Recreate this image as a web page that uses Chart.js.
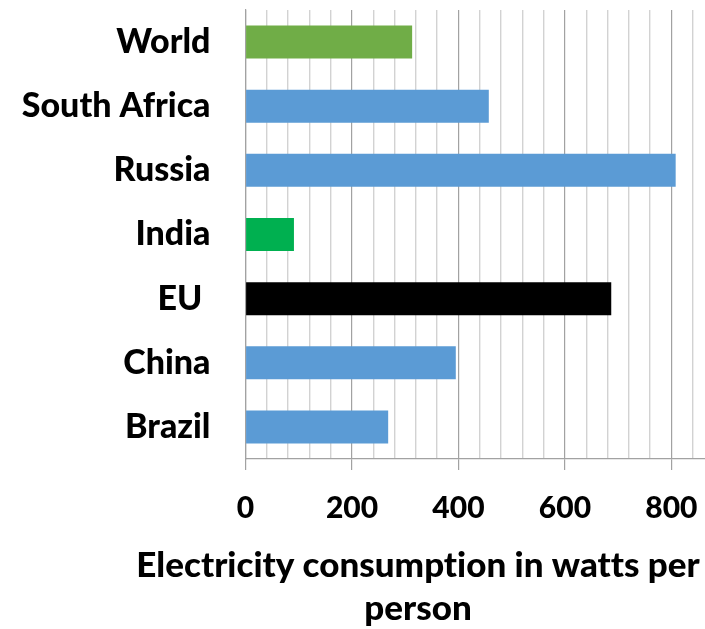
<!DOCTYPE html>
<html>
<head>
<meta charset="utf-8">
<script src="https://cdn.jsdelivr.net/npm/chart.js@4/dist/chart.umd.min.js"></script>
<style>
  html, body { margin: 0; padding: 0; background: #fff; overflow: hidden; }
  #wrap { position: relative; width: 720px; height: 629px; }
</style>
</head>
<body>
<div id="wrap"><canvas id="c" width="720" height="629"></canvas></div>
<script>
// Electricity consumption per person (watts)
const regions = ['World', 'South Africa', 'Russia', 'India', 'EU ', 'China', 'Brazil'];
const wattsPerPerson = [313, 457, 808, 91, 687, 395, 268];
const barColors = ['#70AD47', '#5B9BD5', '#5B9BD5', '#00B050', '#000000', '#5B9BD5', '#5B9BD5'];
const axisTitleLines = ['Electricity consumption in watts per', 'person'];
const xMin = 0, xMax = 880, minorStep = 40, majorStep = 200;

const FONT = 'Lato';

// Draws the two-line axis caption beneath the value labels
const captionPlugin = {
  id: 'caption',
  afterDraw(chart) {
    const ctx = chart.ctx;
    ctx.save();
    ctx.fillStyle = '#000';
    ctx.font = '900 35px ' + FONT;
    if ('textRendering' in ctx) ctx.textRendering = 'optimizeSpeed';
    ctx.textAlign = 'center';
    ctx.textBaseline = 'alphabetic';
    ctx.fillText(axisTitleLines[0], 418, 577);
    ctx.fillText(axisTitleLines[1], 418, 620);
    ctx.restore();
  }
};

const isMajor = v => v % majorStep === 0;

new Chart(document.getElementById('c'), {
  type: 'bar',
  data: {
    labels: regions,
    datasets: [{
      data: wattsPerPerson,
      backgroundColor: barColors,
      borderWidth: 0,
      categoryPercentage: 1,
      barPercentage: 0.514
    }]
  },
  options: {
    indexAxis: 'y',
    responsive: false,
    animation: false,
    layout: { padding: { top: 10, right: 6, left: 0, bottom: 0 } },
    plugins: { legend: { display: false }, tooltip: { enabled: false } },
    scales: {
      x: {
        min: xMin,
        max: xMax,
        afterBuildTicks(scale) {
          const t = [];
          for (let v = xMin; v <= xMax; v += minorStep) t.push({ value: v });
          scale.ticks = t;
        },
        afterFit(scale) {
          scale.height = 629 - 459;
          scale.paddingLeft = 0;
          scale.paddingRight = 0;
        },
        ticks: {
          autoSkip: false,
          maxRotation: 0,
          padding: 20,
          color: '#000',
          font: { family: FONT, size: 30, weight: '900' },
          callback: v => (isMajor(v) ? String(v) : '')
        },
        grid: {
          drawOnChartArea: true,
          tickLength: 11,
          color: c => (isMajor(c.tick.value) ? '#a2a2a2' : '#d2d2d2'),
          tickColor: c => (isMajor(c.tick.value) ? '#a2a2a2' : 'rgba(0,0,0,0)'),
          lineWidth: c => (isMajor(c.tick.value) ? 1.2 : 1.4)
        },
        border: { display: true, color: '#a2a2a2', width: 1.2 }
      },
      y: {
        afterFit(scale) {
          scale.width = 245.5;
          scale.paddingTop = 0;
          scale.paddingBottom = 0;
        },
        ticks: {
          padding: 35,
          color: '#000',
          font: { family: FONT, size: 34, weight: '900' }
        },
        grid: { display: false, drawTicks: false },
        border: { display: true, color: '#a2a2a2', width: 1.2 }
      }
    }
  },
  plugins: [captionPlugin]
});
</script>
</body>
</html>
